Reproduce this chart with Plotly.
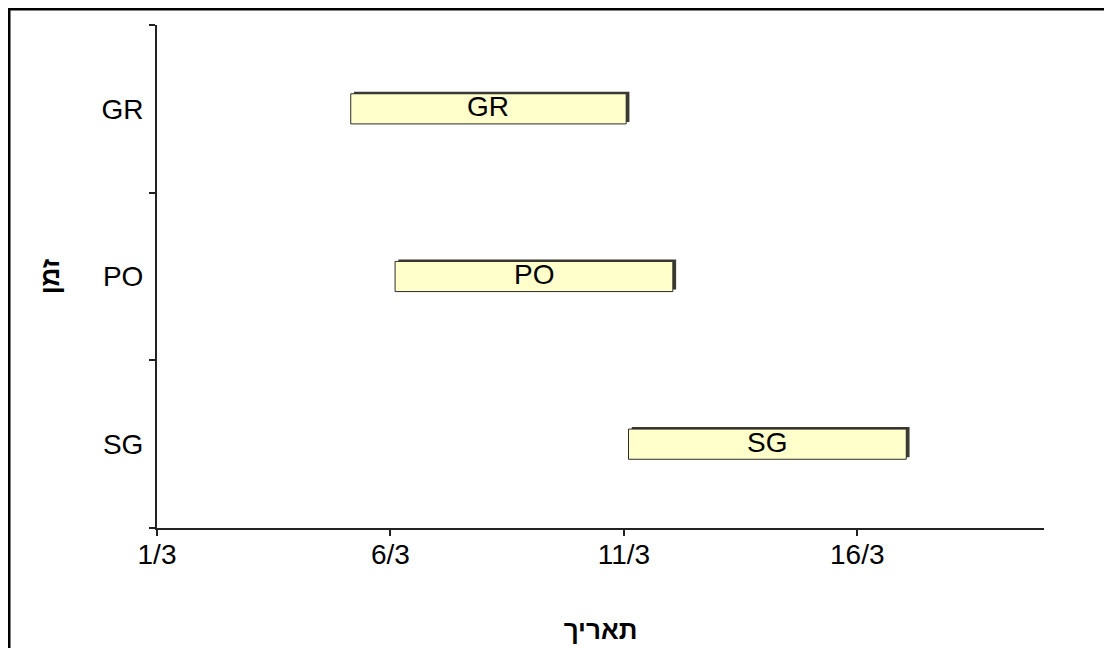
import plotly.graph_objects as go

# Data (days of March)
tasks = ["GR", "PO", "SG"]
start_day = [5.15, 6.1, 11.1]
end_day = [11.05, 12.05, 17.05]
x_tick_vals = [1, 6, 11, 16]
x_tick_text = ["1/3", "6/3", "11/3", "16/3"]
category_order = ["SG", "PO", "GR"]
x_title = "תאריך"
y_title = "זמן"

durations = [e - s for s, e in zip(start_day, end_day)]

FONT = "Arial, Liberation Sans, sans-serif"
BAR_W = 0.18
SH_DX = 0.07
SH_DY = 0.012

W, H = 1104, 640
L, R, T, B = 149, 68, 17, 120
PW, PH = W - L - R, H - T - B

fig = go.Figure()

# 3D-like shadow (depth) behind each bar
fig.add_trace(go.Bar(
    y=tasks, x=durations, base=[s + SH_DX for s in start_day], orientation="h",
    width=BAR_W, offset=-BAR_W / 2 + SH_DY,
    marker=dict(color="#3a3a30", line=dict(width=0)),
    hoverinfo="skip", showlegend=False,
))
# Main bars
fig.add_trace(go.Bar(
    y=tasks, x=durations, base=start_day, orientation="h",
    width=BAR_W, offset=-BAR_W / 2,
    marker=dict(color="#FFFFCC", line=dict(color="#2b2b2b", width=1)),
    showlegend=False,
))

for t, s, d in zip(tasks, start_day, durations):
    fig.add_annotation(x=s + d / 2, y=t, text=t, showarrow=False,
                       font=dict(family=FONT, size=28, color="black"),
                       yshift=2)

fig.update_layout(
    width=W, height=H,
    margin=dict(l=L, r=R, t=T, b=B, autoexpand=False),
    paper_bgcolor="white", plot_bgcolor="white",
    barmode="overlay",
    font=dict(family=FONT, size=28, color="black"),
    xaxis=dict(
        range=[1, 20], tickvals=x_tick_vals, ticktext=x_tick_text,
        automargin=False,
        showgrid=False, zeroline=False, showline=True, linecolor="#222222", linewidth=2,
        ticks="",
        minor=dict(tickmode="array", tickvals=[v + 1e-6 for v in x_tick_vals],
                   ticks="outside", ticklen=6, tickwidth=2, tickcolor="#222222", showgrid=False),
        tickfont=dict(family=FONT, size=28, color="black"),
        title=dict(text="<b>" + x_title + "</b>", font=dict(family=FONT, size=26, color="black"), standoff=52),
    ),
    yaxis=dict(
        type="category", categoryorder="array", categoryarray=category_order,
        range=[-0.5, 2.5], tickson="boundaries",
        automargin=False,
        showgrid=False, zeroline=False, showline=True, linecolor="#222222", linewidth=2,
        ticks="outside", ticklen=6, tickwidth=2, tickcolor="#222222",
        ticklabelstandoff=6,
        tickfont=dict(family=FONT, size=28, color="black"),
        title=dict(text="<b>" + y_title + "</b>", font=dict(family=FONT, size=26, color="black"), standoff=34),
    ),
    shapes=[dict(type="rect", xref="paper", yref="paper",
                 x0=(1 - L) / PW, x1=(W + 20 - L) / PW,
                 y0=-(B + 20) / PH, y1=1 + (T - 1) / PH,
                 line=dict(color="black", width=3), fillcolor="rgba(0,0,0,0)", layer="above")],
)

fig.write_html("out.html")
